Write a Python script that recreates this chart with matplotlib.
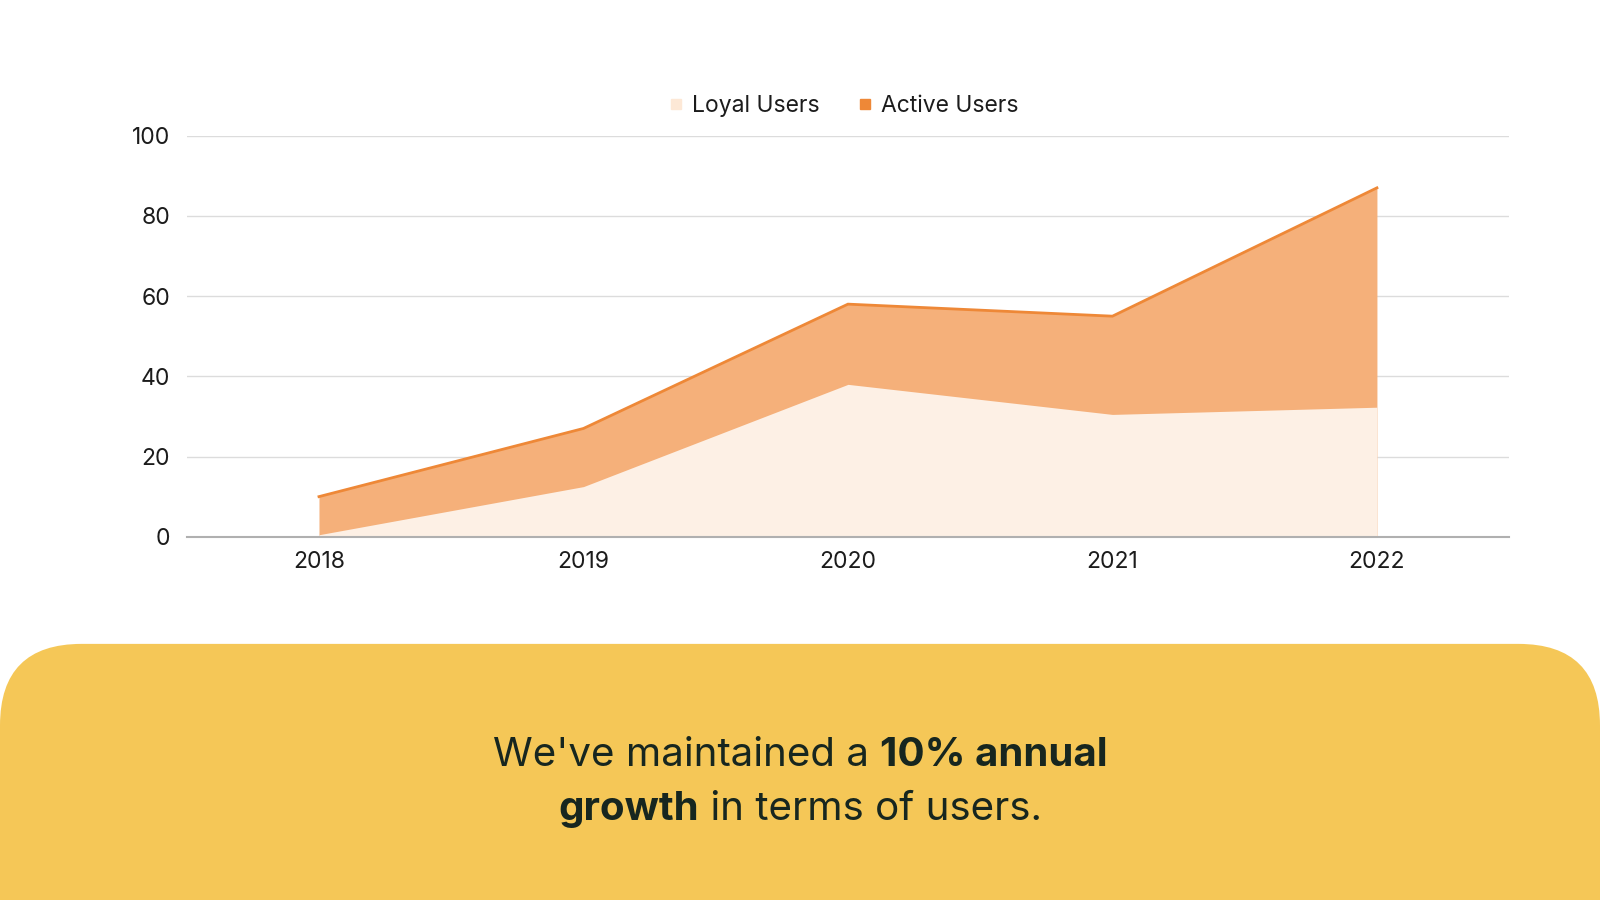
import matplotlib
matplotlib.use("Agg")
import matplotlib.pyplot as plt
from matplotlib.patches import FancyBboxPatch
from matplotlib.lines import Line2D

years = ["2018", "2019", "2020", "2021", "2022"]
loyal_users = [0.5, 12.5, 38, 30.5, 32.3]
active_users = [10, 27, 58, 55, 87]
y_ticks = [0, 20, 40, 60, 80, 100]

FONT = ["Inter", "DejaVu Sans"]
plt.rcParams["font.family"] = FONT

W, H = 1568, 882
fig = plt.figure(figsize=(16, 9), dpi=100)
fig.patch.set_facecolor("white")

# background axes in reference-pixel coordinates
bg = fig.add_axes([0, 0, 1, 1], zorder=0)
bg.set_xlim(0, W)
bg.set_ylim(H, 0)
bg.axis("off")
panel = FancyBboxPatch((0, 631), W, 400, boxstyle="round,pad=0,rounding_size=80",
                       facecolor="#f5c757", edgecolor="none")
bg.add_patch(panel)

# chart axes
ax = fig.add_axes([183 / W, 1 - 526 / H, (1479 - 183) / W, (526 - 133) / H], zorder=2)
ax.set_facecolor("none")
x = list(range(len(years)))
ax.fill_between(x, 0, active_users, color="#f5b07a", lw=0, zorder=2)
ax.plot(x, active_users, color="#ee8837", lw=2, zorder=3, solid_joinstyle="miter")
ax.fill_between(x, 0, loyal_users, color="#fdf0e5", lw=0, zorder=4)
ax.set_xlim(-0.5, 4.5)
ax.set_ylim(0, 100)
ax.set_xticks(x, years)
ax.set_yticks(y_ticks)
for s in ["top", "right", "left"]:
    ax.spines[s].set_visible(False)
ax.spines["bottom"].set_color("#b0b0b0")
ax.spines["bottom"].set_linewidth(1.5)
ax.spines["bottom"].set_zorder(5)
ax.grid(axis="y", color="#dcdcdc", lw=1, zorder=1)
ax.set_axisbelow(True)
ax.tick_params(axis="both", length=0, labelsize=16.5, colors="#1c1c1c")
ax.tick_params(axis="y", pad=12)
ax.tick_params(axis="x", pad=10)

handles = [
    Line2D([], [], ls="none", marker="s", markersize=7, color="#fde8d6"),
    Line2D([], [], ls="none", marker="s", markersize=7, color="#ee8837"),
]
fig.legend(handles, ["Loyal Users", "Active Users"], loc="center",
           bbox_to_anchor=(826 / W, 1 - 104 / H), ncol=2, frameon=False,
           fontsize=16.5, handletextpad=0.3, columnspacing=1.6, handlelength=0.8,
           labelcolor="#1c1c1c")

# bottom text with mixed weights
fs = 29
col = "#17261f"
fig.canvas.draw()
renderer = fig.canvas.get_renderer()

def draw_line(parts, y):
    texts = []
    for s, wt in parts:
        t = bg.text(0, y, s, fontsize=fs, fontweight=wt, color=col, va="center", ha="left")
        texts.append(t)
    widths = [t.get_window_extent(renderer).width for t in texts]
    total = sum(widths)
    inv = bg.transData.inverted()
    x0_disp = bg.transData.transform((W / 2, y))[0] - total / 2
    cur = x0_disp
    for t, w in zip(texts, widths):
        xd = inv.transform((cur, 0))[0]
        t.set_x(xd)
        cur += w

draw_line([("We've maintained a ", "normal"), ("10% annual", "bold")], 740)
draw_line([("growth", "bold"), (" in terms of users.", "normal")], 793)

fig.savefig("out.png", dpi=100, facecolor="white")
